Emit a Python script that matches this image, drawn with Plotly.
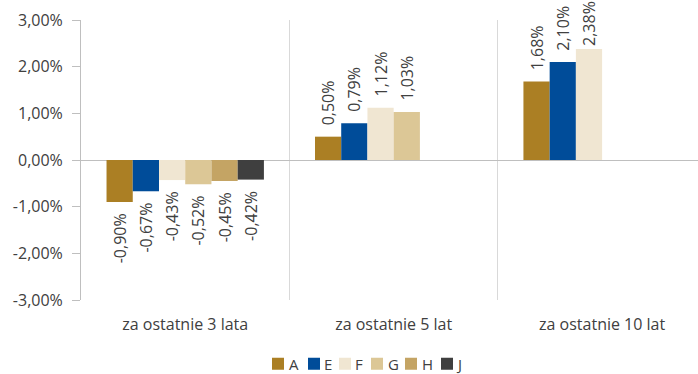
import plotly.graph_objects as go

categories = ["za ostatnie 3 lata", "za ostatnie 5 lat", "za ostatnie 10 lat"]
series_names = ["A", "E", "F", "G", "H", "J"]
values = {
    "A": [-0.90, 0.50, 1.68],
    "E": [-0.67, 0.79, 2.10],
    "F": [-0.43, 1.12, 2.38],
    "G": [-0.52, 1.03, None],
    "H": [-0.45, None, None],
    "J": [-0.42, None, None],
}
colors = {
    "A": "#AB7F24",
    "E": "#004C99",
    "F": "#F0E6D2",
    "G": "#DCC796",
    "H": "#C4A464",
    "J": "#3F3F3F",
}
tick_vals = [-3, -2, -1, 0, 1, 2, 3]
tick_text = ["-3,00%", "-2,00%", "-1,00%", "0,00%", "1,00%", "2,00%", "3,00%"]

FONT = "Open Sans"
TXT = "#404040"

W, H = 698, 374
L, T, B = 81, 20, 74
plot_w = W - L
plot_h = H - T - B

# legend layout (pixels): symbol centres and text starts
legend_sym_x = [278, 314, 345, 377, 411, 447]
legend_txt_x = [287, 322, 353, 386, 420, 454]
legend_y = 364

PAD = "\u00a0\u00a0"  # visual gap between bar end and rotated label


def fmt(v):
    if v is None:
        return ""
    t = f"{v:.2f}%".replace(".", ",")
    if abs(v) > 2.2:  # label near the top edge: keep it tight to the bar
        return t
    return PAD + t if v >= 0 else t + PAD


fig = go.Figure()
legend_layouts = {}
annotations = []
ly = (T + plot_h - legend_y) / plot_h
for i, s in enumerate(series_names):
    vals = values[s]
    lg = "legend" if i == 0 else f"legend{i+1}"
    fig.add_trace(go.Bar(
        name="", x=categories, y=vals, text=[fmt(v) for v in vals],
        textposition="outside", textangle=-90, constraintext="none",
        textfont=dict(family=FONT, size=16, color=TXT),
        marker=dict(color=colors[s], line=dict(width=0)),
        cliponaxis=False, legend=lg, showlegend=True,
        hovertemplate=s + ": %{y:.2f}%<extra></extra>",
    ))
    legend_layouts[lg] = dict(
        orientation="h", x=(legend_sym_x[i] - 20 - L) / plot_w, xanchor="left",
        y=ly, yanchor="middle",
        font=dict(family=FONT, size=15, color=TXT),
        itemwidth=30, borderwidth=0, bgcolor="rgba(0,0,0,0)",
        itemclick=False, itemdoubleclick=False,
    )
    annotations.append(dict(
        text=s, xref="paper", yref="paper", x=(legend_txt_x[i] - L) / plot_w, y=ly,
        xanchor="left", yanchor="middle", showarrow=False,
        font=dict(family=FONT, size=15, color=TXT),
    ))

fig.update_layout(
    width=W, height=H,
    margin=dict(l=L, r=0, t=T, b=B, autoexpand=False),
    paper_bgcolor="white", plot_bgcolor="white",
    barmode="group", bargap=0.245, bargroupgap=0,
    font=dict(family=FONT, size=15, color=TXT),
    annotations=annotations,
    **legend_layouts,
)
fig.update_xaxes(
    range=[-0.5, 2.46], tickson="boundaries", showgrid=True, gridcolor="#D9D9D9", gridwidth=1,
    ticks="", showline=False, tickfont=dict(family=FONT, size=16, color=TXT), ticklabelstandoff=13,
    automargin=False,
)
fig.update_yaxes(
    range=[-3, 3], tickvals=tick_vals, ticktext=tick_text, showgrid=False,
    zeroline=True, zerolinecolor="#BFBFBF", zerolinewidth=1,
    showline=True, linecolor="#BFBFBF", linewidth=1,
    ticks="outside", ticklen=8, tickcolor="#BFBFBF", ticklabeloverflow="allow",
    ticklabelstandoff=6,
    tickfont=dict(family=FONT, size=16, color=TXT), automargin=False,
)

fig.write_html("out.html", config={"displayModeBar": False},
               post_script="document.body.style.margin='0';")
